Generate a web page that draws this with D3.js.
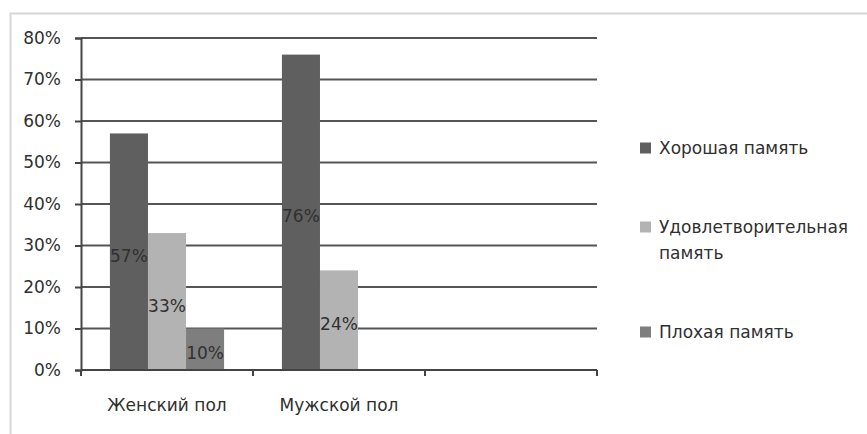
<!DOCTYPE html>
<html>
<head>
<meta charset="utf-8">
<script src="https://cdn.jsdelivr.net/npm/d3@7"></script>
<style>
  html, body { margin: 0; padding: 0; background: #fff; }
  svg text { font-family: "DejaVu Sans", Verdana, sans-serif; fill: #303030; }
</style>
</head>
<body>
<svg id="chart" width="867" height="434"></svg>
<script>
// Categories along the x axis (the third slot is left empty)
const categories = ["Женский пол", "Мужской пол", ""];
// Series names shown in the legend
const seriesNames = ["Хорошая память", "Удовлетворительная память", "Плохая память"];
// Shares per category for each series (null = no bar)
const goodMemory = [0.57, 0.76, null];
const fairMemory = [0.33, 0.24, null];
const poorMemory = [0.10, null, null];
// Y axis tick values
const yTicks = [0, 0.1, 0.2, 0.3, 0.4, 0.5, 0.6, 0.7, 0.8];
const seriesColors = ["#5f5f5f", "#b3b3b3", "#7e7e7e"];

const seriesValues = [goodMemory, fairMemory, poorMemory];

const svg = d3.select("#chart");

// Outer frame of the chart area
svg.append("rect")
  .attr("x", 10.5).attr("y", 13.5)
  .attr("width", 900).attr("height", 500)
  .attr("fill", "none").attr("stroke", "#d6d6d6").attr("stroke-width", 2);

const plot = { left: 81, right: 597, top: 38, bottom: 370 };

const y = d3.scaleLinear().domain([0, 0.8]).range([plot.bottom, plot.top]);
const x0 = d3.scaleBand().domain(categories).range([plot.left, plot.right]).padding(0);
const x1 = d3.scaleBand().domain(seriesNames)
  .range([0, x0.bandwidth()]).paddingInner(0).paddingOuter(0.76);

// Horizontal gridlines
svg.append("g").selectAll("line")
  .data(yTicks.filter(d => d > 0))
  .join("line")
  .attr("x1", plot.left).attr("x2", plot.right)
  .attr("y1", d => y(d)).attr("y2", d => y(d))
  .attr("stroke", "#555").attr("stroke-width", 2);

// Bars
const rows = categories.map((c, i) => ({
  category: c,
  values: seriesNames.map((s, j) => ({ series: s, idx: j, value: seriesValues[j][i] }))
}));

const groups = svg.append("g").selectAll("g")
  .data(rows).join("g")
  .attr("transform", d => `translate(${x0(d.category)},0)`);

groups.selectAll("rect")
  .data(d => d.values.filter(v => v.value != null))
  .join("rect")
  .attr("x", d => x1(d.series))
  .attr("width", x1.bandwidth())
  .attr("y", d => y(d.value))
  .attr("height", d => y(0) - y(d.value))
  .attr("fill", d => seriesColors[d.idx]);

// Value labels centred on each bar
groups.selectAll("text")
  .data(d => d.values.filter(v => v.value != null))
  .join("text")
  .attr("x", d => x1(d.series) + x1.bandwidth() / 2)
  .attr("y", d => y(d.value / 2) + 4)
  .attr("text-anchor", "middle")
  .attr("dominant-baseline", "central")
  .attr("font-size", 17)
  .text(d => d3.format(".0%")(d.value));

// Y axis
const yAxis = svg.append("g")
  .attr("transform", `translate(${plot.left},0)`)
  .call(d3.axisLeft(y).tickValues(yTicks).tickFormat(d3.format(".0%")).tickSize(6).tickPadding(14));
yAxis.select(".domain").attr("stroke", "#444").attr("stroke-width", 2);
yAxis.selectAll(".tick line").attr("stroke", "#444").attr("stroke-width", 2);
yAxis.selectAll(".tick text").attr("font-size", 17).attr("font-family", "DejaVu Sans").attr("fill", "#303030");

// X axis: baseline, boundary ticks and category labels
const xAxis = svg.append("g").attr("transform", `translate(0,${plot.bottom})`);
xAxis.append("line")
  .attr("x1", plot.left).attr("x2", plot.right)
  .attr("stroke", "#444").attr("stroke-width", 2);
const bounds = categories.map(c => x0(c)).concat([x0(categories[categories.length - 1]) + x0.bandwidth()]);
xAxis.selectAll("line.tick")
  .data(bounds).join("line").attr("class", "tick")
  .attr("x1", d => d).attr("x2", d => d)
  .attr("y1", 0).attr("y2", 6)
  .attr("stroke", "#444").attr("stroke-width", 2);
xAxis.selectAll("text")
  .data(categories).join("text")
  .attr("x", d => x0(d) + x0.bandwidth() / 2)
  .attr("y", 41)
  .attr("text-anchor", "middle")
  .attr("font-size", 17)
  .text(d => d);

// Legend
const legendItems = [
  { lines: ["Хорошая память"], idx: 0, y: 148 },
  { lines: ["Удовлетворительная", "память"], idx: 1, y: 227 },
  { lines: ["Плохая память"], idx: 2, y: 332 }
];
const legend = svg.append("g");
const li = legend.selectAll("g").data(legendItems).join("g");
li.append("rect")
  .attr("x", 640).attr("y", d => d.y - 5.5)
  .attr("width", 11).attr("height", 11)
  .attr("fill", d => seriesColors[d.idx]);
li.append("text")
  .attr("x", 659).attr("y", d => d.y)
  .attr("dominant-baseline", "central")
  .attr("font-size", 17)
  .selectAll("tspan").data(d => d.lines).join("tspan")
  .attr("x", 659).attr("dy", (d, i) => i === 0 ? 0 : 26)
  .text(d => d);
</script>
</body>
</html>
